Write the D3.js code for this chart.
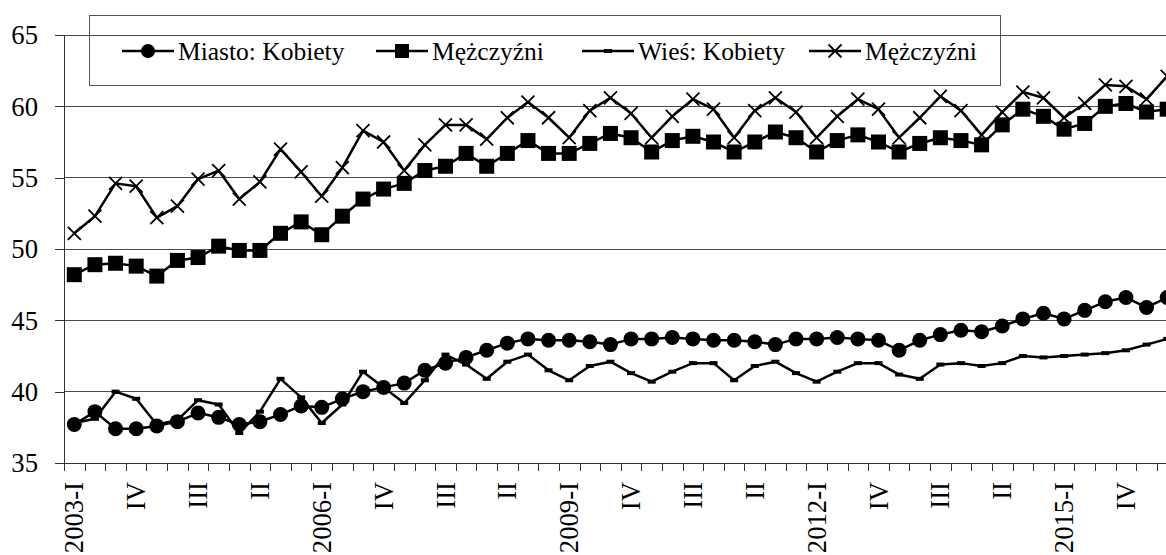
<!DOCTYPE html>
<html><head><meta charset="utf-8">
<script src="https://cdnjs.cloudflare.com/ajax/libs/d3/7.8.5/d3.min.js"></script>
<style>
html,body{margin:0;padding:0;background:#fff;overflow:hidden;}
svg{display:block;font-family:"Liberation Serif","Times New Roman",serif;}
</style></head>
<body>
<svg id="chart" width="1166" height="555"></svg>
<script>
const categories = [
 "2003-I","2003-II","2003-III","2003-IV","2004-I","2004-II","2004-III","2004-IV",
 "2005-I","2005-II","2005-III","2005-IV","2006-I","2006-II","2006-III","2006-IV",
 "2007-I","2007-II","2007-III","2007-IV","2008-I","2008-II","2008-III","2008-IV",
 "2009-I","2009-II","2009-III","2009-IV","2010-I","2010-II","2010-III","2010-IV",
 "2011-I","2011-II","2011-III","2011-IV","2012-I","2012-II","2012-III","2012-IV",
 "2013-I","2013-II","2013-III","2013-IV","2014-I","2014-II","2014-III","2014-IV",
 "2015-I","2015-II","2015-III","2015-IV","2016-I","2016-II"];
const tickCategories = ["2003-I","2003-IV","2004-III","2005-II","2006-I","2006-IV","2007-III","2008-II",
 "2009-I","2009-IV","2010-III","2011-II","2012-I","2012-IV","2013-III","2014-II","2015-I","2015-IV"];
const tickLabels = ["2003-I","IV","III","II","2006-I","IV","III","II","2009-I","IV","III","II","2012-I","IV","III","II","2015-I","IV"];
const yTicks = [35,40,45,50,55,60,65];

const miastoKobiety = [37.7,38.6,37.4,37.4,37.6,37.9,38.5,38.2,37.7,37.9,
 38.4,39.0,38.9,39.5,40.0,40.3,40.6,41.5,42.0,42.4,
 42.9,43.4,43.7,43.6,43.6,43.5,43.3,43.7,43.7,43.8,
 43.7,43.6,43.6,43.5,43.3,43.7,43.7,43.8,43.7,43.6,
 42.9,43.6,44.0,44.3,44.2,44.6,45.1,45.5,45.1,45.7,
 46.3,46.6,45.9,46.6];
const miastoMezczyzni = [48.2,48.9,49.0,48.8,48.1,49.2,49.4,50.2,49.9,49.9,
 51.1,51.9,51.0,52.3,53.5,54.2,54.6,55.5,55.8,56.7,
 55.8,56.7,57.6,56.7,56.7,57.4,58.1,57.8,56.8,57.6,
 57.9,57.5,56.8,57.5,58.2,57.8,56.8,57.6,58.0,57.5,
 56.8,57.4,57.8,57.6,57.3,58.7,59.8,59.3,58.4,58.8,
 60.0,60.2,59.6,59.8];
const wiesKobiety = [37.8,38.1,40.0,39.5,37.7,38.0,39.4,39.1,37.1,38.6,
 40.9,39.6,37.8,39.1,41.4,40.3,39.2,40.8,42.6,41.9,
 40.9,42.1,42.6,41.5,40.8,41.8,42.1,41.3,40.7,41.4,
 42.0,42.0,40.8,41.8,42.1,41.3,40.7,41.4,42.0,42.0,
 41.2,40.9,41.9,42.0,41.8,42.0,42.5,42.4,42.5,42.6,
 42.7,42.9,43.3,43.7];
const wiesMezczyzni = [51.1,52.3,54.6,54.4,52.2,53.0,54.9,55.5,53.5,54.7,
 57.0,55.4,53.7,55.7,58.3,57.5,55.5,57.3,58.7,58.7,
 57.7,59.2,60.3,59.2,57.8,59.7,60.6,59.5,57.8,59.3,
 60.5,59.8,57.8,59.7,60.6,59.6,57.8,59.3,60.5,59.8,
 57.8,59.2,60.7,59.7,58.0,59.6,61.0,60.6,59.2,60.2,
 61.5,61.4,60.5,62.1];
const seriesNames = ["Miasto: Kobiety","Mężczyźni","Wieś: Kobiety","Mężczyźni"];

(function(){
const svg = d3.select("#chart");
const pLeft = 64, pTop = 35, pBottom = 463, step = 20.62;
const x = d3.scaleBand().domain(categories).range([pLeft, pLeft + step*categories.length]).padding(0);
const y = d3.scaleLinear().domain([35,65]).range([pBottom, pTop]);
const xi = d3.scaleLinear().domain([0, categories.length]).range([pLeft, pLeft + step*categories.length]);
const cx = c => x(c) + x.bandwidth()/2;

// gridlines
svg.append("g").selectAll("line").data(yTicks.filter(v=>v>35)).join("line")
  .attr("x1", pLeft).attr("x2", 1166).attr("y1", d=>y(d)).attr("y2", d=>y(d))
  .attr("stroke", "#4a4a4a").attr("stroke-width", 1).attr("shape-rendering","crispEdges");

// y axis
const yAxis = svg.append("g").attr("transform", `translate(${pLeft},0)`)
  .call(d3.axisLeft(y).tickValues(yTicks).tickSize(9).tickPadding(17));
yAxis.select(".domain").attr("stroke","#333").attr("shape-rendering","crispEdges");
yAxis.selectAll(".tick line").attr("stroke","#333").attr("shape-rendering","crispEdges");
yAxis.selectAll("text").attr("font-size","26.7px").attr("fill","#000").attr("font-family","Liberation Serif").attr("dy","0.33em");

// x axis boundary ticks
const xTicks = svg.append("g").attr("transform", `translate(0,${pBottom})`)
  .call(d3.axisBottom(xi).tickValues(d3.range(0, categories.length+1)).tickSize(8).tickFormat(""));
xTicks.select(".domain").remove();
xTicks.selectAll(".tick line").attr("stroke","#333").attr("shape-rendering","crispEdges");
svg.append("line").attr("x1", pLeft-9).attr("x2", 1166).attr("y1", pBottom).attr("y2", pBottom)
  .attr("stroke","#333").attr("shape-rendering","crispEdges");

// x labels
const xLab = svg.append("g").attr("transform", `translate(0,${pBottom})`)
  .call(d3.axisBottom(x).tickValues(tickCategories).tickSize(0).tickFormat((d,i)=>tickLabels[i]));
xLab.select(".domain").remove();
xLab.selectAll("text").attr("font-size","26.7px").attr("fill","#000").attr("font-family","Liberation Serif")
  .attr("transform","rotate(-90)").attr("text-anchor","end").attr("x",-19).attr("y",0).attr("dy","0.34em");

// series
const line = d3.line().x((d,i)=>cx(categories[i])).y(d=>y(d));
const g = svg.append("g");
function drawLine(data, w){ g.append("path").datum(data).attr("d", line).attr("fill","none").attr("stroke","#000").attr("stroke-width", w).attr("stroke-linejoin","round"); }
drawLine(wiesMezczyzni, 2.5);
drawLine(miastoMezczyzni, 2.5);
drawLine(wiesKobiety, 2.5);
drawLine(miastoKobiety, 2.5);

const crossPath = s => `M${-s},${-s}L${s},${s}M${-s},${s}L${s},${-s}`;
g.append("g").selectAll("path").data(wiesMezczyzni).join("path")
  .attr("transform",(d,i)=>`translate(${cx(categories[i])},${y(d)})`)
  .attr("d", crossPath(6.5)).attr("stroke","#000").attr("stroke-width",1.8).attr("fill","none");
g.append("g").selectAll("rect").data(miastoMezczyzni).join("rect")
  .attr("x",(d,i)=>cx(categories[i])-7.5).attr("y",d=>y(d)-7.5).attr("width",15).attr("height",15).attr("fill","#000");
g.append("g").selectAll("rect").data(wiesKobiety).join("rect")
  .attr("x",(d,i)=>cx(categories[i])-4).attr("y",d=>y(d)-2).attr("width",8).attr("height",4).attr("fill","#000");
g.append("g").selectAll("circle").data(miastoKobiety).join("circle")
  .attr("cx",(d,i)=>cx(categories[i])).attr("cy",d=>y(d)).attr("r",7.5).attr("fill","#000");

// legend
const lg = svg.append("g");
lg.append("rect").attr("x",89.5).attr("y",15.5).attr("width",911).attr("height",70)
  .attr("fill","none").attr("stroke","#555").attr("stroke-width",1);
const legendX = [122, 376, 582, 809];
const ly = 51;
seriesNames.forEach((name,i)=>{
  const x0 = legendX[i], x1 = x0+52, xm = (x0+x1)/2;
  lg.append("line").attr("x1",x0).attr("x2",x1).attr("y1",ly).attr("y2",ly).attr("stroke","#000").attr("stroke-width",2.5);
  if(i===0) lg.append("circle").attr("cx",xm).attr("cy",ly).attr("r",7).attr("fill","#000");
  if(i===1) lg.append("rect").attr("x",xm-7).attr("y",ly-7).attr("width",14).attr("height",14).attr("fill","#000");
  if(i===2) lg.append("rect").attr("x",xm-4).attr("y",ly-2).attr("width",8).attr("height",4).attr("fill","#000");
  if(i===3) lg.append("path").attr("transform",`translate(${xm},${ly})`).attr("d",crossPath(6.5)).attr("stroke","#000").attr("stroke-width",1.8);
  lg.append("text").attr("x",x1+4).attr("y",ly+8.5).attr("font-size","25.5px").attr("fill","#000").text(name);
});
})();
</script>
</body></html>
